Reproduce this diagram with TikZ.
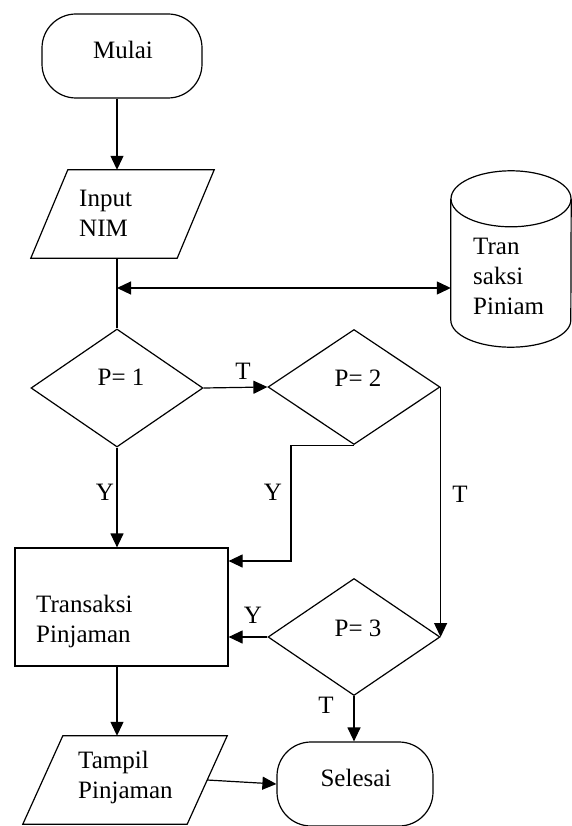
\documentclass[tikz,border=0pt]{standalone}
\usepackage{fontspec}
\setmainfont{Liberation Serif}
\usetikzlibrary{shapes.geometric, arrows.meta}
\tikzset{flow/.style={draw, line width=1.2pt, inner sep=0pt},
  termnode/.style={flow, rounded corners=34pt, minimum height=84pt},
  iobox/.style={inner sep=0pt, minimum height=88pt},
  decnode/.style={flow, diamond, minimum width=172pt},
  procnode/.style={flow, rectangle, minimum width=213pt, minimum height=118pt},
  dbnode/.style={inner sep=0pt, minimum width=120pt, minimum height=176pt},
  txtnode/.style={align=left, anchor=west, inner sep=0pt},
  arr/.style={line width=1.2pt, -{Triangle[length=14pt, width=13pt]}},
  dblarr/.style={line width=1.2pt, {Triangle[length=14pt, width=13pt]}-{Triangle[length=14pt, width=13pt]}}}

\begin{document}
\begin{tikzpicture}[x=1pt, y=-1pt, font=\fontsize{25}{30}\selectfont]

\useasboundingbox (0,0) rectangle (572,826);

  % nodes

  \node [style = termnode, minimum width=160pt, label={[xshift=1pt, yshift=6pt]center:Mulai}] (mulai) at (122,56) {};
  \node [style = iobox, minimum width=183pt] (inp) at (122.5,214) {};
  \node [style = txtnode] (inptxt) at (79,213) {Input\\NIM};
  \node [style = dbnode] (db) at (511,259) {};
  \node [style = txtnode] (dbtxt) at (473,276) {Tran\\saksi\\Piniam};
  \coordinate (jct) at (117,288);

  \node [style = decnode, minimum height=118pt, label={[xshift=4pt, yshift=11pt]center:P= 1}] (p1) at (117,388) {};
  \node [style = decnode, minimum height=115pt, label={[xshift=4pt, yshift=9pt]center:P= 2}] (p2) at (354,387) {};
  \node [style = procnode] (pinj) at (121.5,607) {};
  \node [style = txtnode] (pinjtxt) at (36,621) {Transaksi\\Pinjaman};
  \node [style = decnode, minimum height=117pt, label={[xshift=4pt, yshift=9pt]center:P= 3}] (p3) at (354,637) {};
  \coordinate (p2bend) at (291,561);

  \node [style = iobox, minimum width=204pt] (tampil) at (125,780) {};
  \node [style = txtnode] (tampiltxt) at (78,777) {Tampil\\Pinjaman};
  \node [style = termnode, minimum width=156pt, label={[xshift=1pt, yshift=6pt]center:Selesai}] (selesai) at (355,784) {};

  % shapes
  \draw [line width=1.2pt] ([xshift=37pt]inp.north west) -- (inp.north east)
    -- ([xshift=-37pt]inp.south east) -- (inp.south west) -- cycle;
  \draw [line width=1.2pt] ([xshift=40pt]tampil.north west) -- (tampil.north east)
    -- ([xshift=-40pt]tampil.south east) -- (tampil.south west) -- cycle;
  \draw [line width=1.2pt] ([yshift=-28pt]db.north west) -- ([yshift=27pt]db.south west)
    arc [start angle=180, end angle=360, x radius=60pt, y radius=27pt] -- ([yshift=-28pt]db.north east);
  \draw [line width=1.2pt] ([yshift=-28pt]db.north) ellipse [x radius=60pt, y radius=28pt];

  %  edges
  \draw [arr] (mulai.south -| jct) to (inp.north -| jct);
  \draw [line width=1.2pt] (inp.south -| jct) to (p1.north);
  \draw [dblarr] (jct) to (jct -| db.west);
  \draw [arr] (p1.east) to (p2.west);
  \draw [arr] (p1.south) to (pinj.north -| p1.south);
  \draw [arr] (p2.south) -- (p2.south -| p2bend) -- (p2bend) -- (p2bend -| pinj.east);
  \draw [arr] (p2.east) to (p3.east);
  \draw [arr] (p3.west) to (p3.west -| pinj.east);
  \draw [arr] (p3.south) to (p3.south |- selesai.north);
  \draw [arr] (pinj.south -| jct) to (tampil.north -| jct);
  \draw [arr] ([xshift=-20pt]tampil.east) to (selesai.west);

  % labels
  \node (t1) at (243,371) {T};
  \node (y1) at (105,492) {Y};
  \node (y2) at (273,492) {Y};
  \node (t2) at (460,494) {T};
  \node (y3) at (253,615) {Y};
  \node (t3) at (326,705) {T};

\end{tikzpicture}
\end{document}
